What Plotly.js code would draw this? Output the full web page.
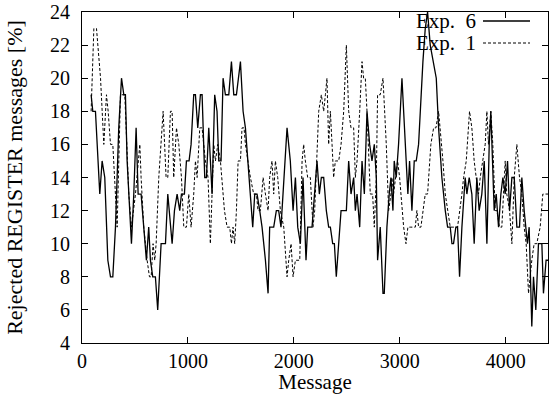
<!DOCTYPE html>
<html>
<head>
<meta charset="utf-8">
<script src="https://cdn.plot.ly/plotly-3.0.1.min.js"></script>
<style>html,body{margin:0;padding:0;background:#fff;}#chart{width:558px;height:394px;}</style>
</head>
<body>
<div id="chart"></div>
<script>
var exp6X = [86,102,127,168,190,215,244,269,291,316,347,373,395,410,426,451,467,489,511,530,558,583,608,630,646,668,693,715,734,747,788,810,851,873,898,923,939,967,986,1011,1030,1055,1071,1093,1118,1134,1159,1175,1197,1228,1253,1275,1291,1313,1332,1354,1386,1411,1433,1458,1496,1521,1543,1574,1590,1612,1631,1653,1678,1700,1732,1757,1772,1810,1835,1857,1879,1905,1936,1967,1993,2015,2037,2062,2087,2115,2131,2172,2194,2219,2241,2260,2282,2307,2329,2345,2367,2383,2401,2424,2446,2471,2496,2518,2540,2565,2581,2597,2622,2644,2666,2691,2716,2738,2760,2779,2791,2816,2842,2854,2879,2901,2917,2936,2948,2967,2989,3021,3037,3052,3077,3093,3115,3137,3156,3178,3200,3219,3241,3263,3288,3320,3345,3367,3398,3430,3452,3477,3493,3508,3530,3546,3565,3587,3603,3618,3634,3656,3681,3703,3728,3750,3775,3798,3823,3845,3860,3870,3892,3911,3933,3955,3974,3996,4018,4037,4059,4081,4106,4131,4153,4175,4194,4206,4222,4232,4247,4263,4285,4310,4342,4357,4382,4404];
var exp6Y = [19,18,18,13,15,14,9,8,8,11,17,20,19,19,15,12,10,13,17,13,13,11,9,11,9,8,8,6,8,10,10,13,10,12,13,12,13,13,15,15,16,19,19,17,19,19,14,14,17,13,19,18,15,15,20,19,19,21,19,19,21,18,17,14,13,11,13,13,12,11,9,7,11,11,12,12,11,14,17,15,12,14,11,10,14,9,11,11,13,15,13,14,14,12,11,11,10,10,8,10,12,12,12,15,13,14,12,13,11,15,13,18,16,15,16,14,9,11,7,7,11,13,14,12,15,14,16,20,18,16,13,15,12,15,15,16,19,21,23,24,22,21,20,17,14,12,11,11,10,10,11,11,8,11,13,14,13,14,13,10,14,12,13,15,10,16,18,16,12,13,11,13,14,13,15,12,14,14,11,11,14,12,11,10,11,8,5,8,6,10,10,7,9,9];

var exp1X = [86,112,137,175,206,231,247,269,291,332,363,404,442,467,505,546,558,583,615,637,653,671,687,700,725,766,794,810,835,851,866,892,914,939,961,986,1008,1030,1055,1071,1087,1112,1134,1165,1190,1212,1244,1260,1282,1307,1345,1370,1395,1411,1426,1442,1458,1474,1496,1511,1530,1543,1590,1621,1647,1662,1684,1710,1732,1757,1772,1794,1810,1826,1848,1873,1905,1927,1936,1952,1974,1993,2015,2030,2056,2078,2093,2109,2131,2156,2181,2197,2219,2235,2260,2282,2298,2313,2329,2345,2361,2376,2392,2424,2446,2471,2496,2518,2540,2565,2581,2597,2622,2644,2659,2675,2691,2707,2722,2744,2760,2779,2791,2816,2842,2873,2895,2917,2926,2942,2958,2980,2999,3021,3037,3059,3077,3099,3125,3147,3162,3178,3200,3219,3241,3263,3294,3320,3342,3367,3382,3408,3430,3452,3477,3502,3524,3546,3587,3603,3628,3659,3681,3703,3722,3744,3760,3785,3807,3823,3838,3860,3879,3901,3917,3942,3964,3980,3996,4011,4037,4059,4081,4106,4131,4153,4175,4194,4216,4247,4269,4294,4326,4351,4382,4404];
var exp1Y = [18,23,23,20,16,19,18,16,16,11,19,19,13,11,13,16,14,11,9,8,8,10,9,10,14,18,14,14,18,18,14,17,16,14,11,11,13,11,13,15,14,17,17,15,14,10,16,15,16,15,12,11,11,10,11,10,12,15,15,17,17,16,14,13,13,12,12,14,13,12,14,15,13,15,14,12,11,9,8,9,10,8,9,9,9,15,16,15,14,14,11,12,15,18,19,18,19,20,16,18,16,14,15,15,16,18,22,18,17,17,14,15,18,21,20,20,18,15,13,13,11,14,19,19,20,16,12,13,14,13,14,15,14,12,11,10,11,11,11,11,12,11,11,12,13,13,16,17,17,18,17,15,13,12,11,11,11,11,13,14,15,18,17,15,14,13,14,15,16,18,16,18,16,12,12,11,11,13,15,13,12,10,14,16,14,13,11,10,7,9,10,10,11,13,13,13];

var seriesNames = ["Exp.&nbsp; 6", "Exp.&nbsp; 1"];
var xTickVals = [0,1000,2000,3000,4000];
var yTickVals = [4,6,8,10,12,14,16,18,20,22,24];

var FONT = "Liberation Serif, Times New Roman, serif";
var L = 82, R = 548, T = 12, B = 343, W = 558, H = 394;
function px(x){ return (x - L) / (R - L); }
function py(y){ return (B - y) / (B - T); }

var traces = [
  {x: exp6X, y: exp6Y, mode: "lines", name: "Exp. 6", line: {color: "#000", width: 1.3, dash: "solid"}},
  {x: exp1X, y: exp1Y, mode: "lines", name: "Exp. 1", line: {color: "#000", width: 1, dash: "3px,2px"}}
];

var layout = {
  width: W, height: H,
  margin: {l: L, r: W - R, t: T, b: H - B, pad: 0},
  paper_bgcolor: "#fff", plot_bgcolor: "#fff",
  showlegend: false,
  font: {family: FONT, size: 20, color: "#000"},
  xaxis: {
    range: [0, 4400], tickvals: xTickVals, ticks: "inside", ticklen: 6, tickcolor: "#000",
    showline: true, linecolor: "#000", linewidth: 1, mirror: "ticks", showgrid: false, zeroline: false,
    ticklabelstandoff: 0, ticklabeloverflow: "allow", tickfont: {family: FONT, size: 20},
    title: {text: "Message", font: {family: FONT, size: 21}, standoff: 5}
  },
  yaxis: {
    range: [4, 24], tickvals: yTickVals, ticks: "inside", ticklen: 6, tickcolor: "#000",
    showline: true, linecolor: "#000", linewidth: 1, mirror: "ticks", showgrid: false, zeroline: false,
    ticklabelstandoff: 7, ticklabeloverflow: "allow", tickfont: {family: FONT, size: 20},
    title: {text: "Rejected REGISTER messages [%]", font: {family: FONT, size: 22}, standoff: 21}
  },
  annotations: [
    {xref: "paper", yref: "paper", x: px(478), y: py(21), xanchor: "right", yanchor: "middle", text: seriesNames[0], showarrow: false, font: {family: FONT, size: 21, color: "#000"}},
    {xref: "paper", yref: "paper", x: px(478), y: py(43), xanchor: "right", yanchor: "middle", text: seriesNames[1], showarrow: false, font: {family: FONT, size: 21, color: "#000"}}
  ],
  shapes: [
    {type: "line", xref: "paper", yref: "paper", x0: px(483), x1: px(530), y0: py(21), y1: py(21), line: {color: "#000", width: 1.3}},
    {type: "line", xref: "paper", yref: "paper", x0: px(483), x1: px(530), y0: py(43), y1: py(43), line: {color: "#000", width: 1, dash: "3px,2px"}}
  ]
};

Plotly.newPlot("chart", traces, layout, {staticPlot: true, displayModeBar: false});
</script>
</body>
</html>
